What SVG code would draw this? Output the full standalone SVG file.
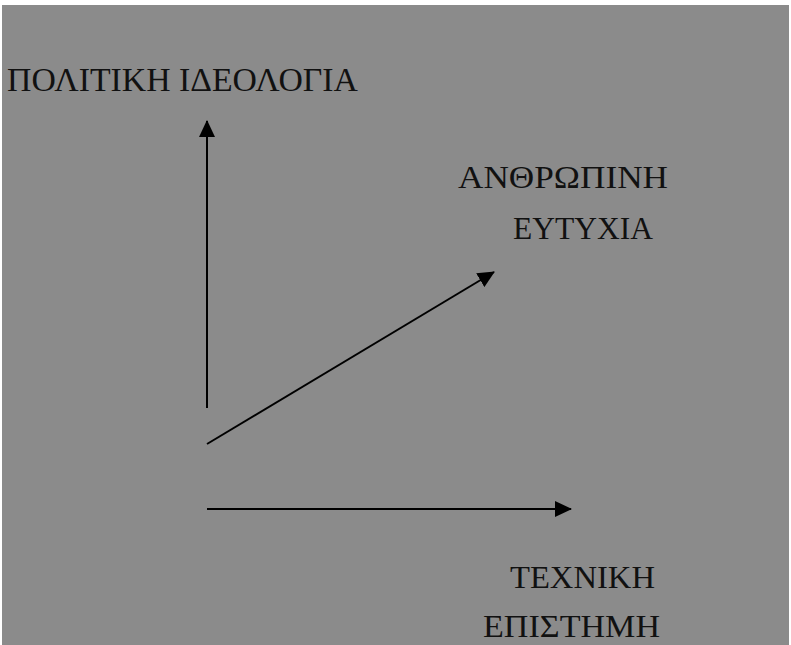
<svg xmlns="http://www.w3.org/2000/svg" width="791" height="645" viewBox="0 0 791 645">
<style>
.lbl{font-family:"Liberation Serif","DejaVu Serif",serif;fill:#111;}
.ax{stroke:#000;stroke-width:2;fill:none;}
</style>
<defs>
<marker id="ah" markerUnits="userSpaceOnUse" markerWidth="17" markerHeight="16" refX="16" refY="8" orient="auto">
<path d="M0,0 L17,8 L0,16 Z" fill="#000"/>
</marker>
</defs>
<rect x="0" y="0" width="791" height="645" fill="#ffffff"/>
<rect x="2" y="5" width="787" height="640" fill="#8b8b8b"/>
<g id="connectors">
<line class="ax" x1="207" y1="408" x2="207" y2="121" marker-end="url(#ah)"/>
<line class="ax" x1="207" y1="444" x2="494" y2="272" marker-end="url(#ah)"/>
<line class="ax" x1="207" y1="509" x2="571" y2="509" marker-end="url(#ah)"/>
</g>
<g id="node-ideologia">
<text class="lbl" x="7" y="91" font-size="34" textLength="351" lengthAdjust="spacingAndGlyphs">ΠΟΛΙΤΙΚΗ ΙΔΕΟΛΟΓΙΑ</text>
</g>
<g id="node-eftyxia">
<text class="lbl" x="458" y="188" font-size="31" textLength="210" lengthAdjust="spacingAndGlyphs">ΑΝΘΡΩΠΙΝΗ</text>
<text class="lbl" x="513" y="239" font-size="31" textLength="140" lengthAdjust="spacingAndGlyphs">ΕΥΤΥΧΙΑ</text>
</g>
<g id="node-episthmh">
<text class="lbl" x="510" y="588" font-size="31" textLength="145" lengthAdjust="spacingAndGlyphs">ΤΕΧΝΙΚΗ</text>
<text class="lbl" x="483" y="637" font-size="31" textLength="177" lengthAdjust="spacingAndGlyphs">ΕΠΙΣΤΗΜΗ</text>
</g>
</svg>
